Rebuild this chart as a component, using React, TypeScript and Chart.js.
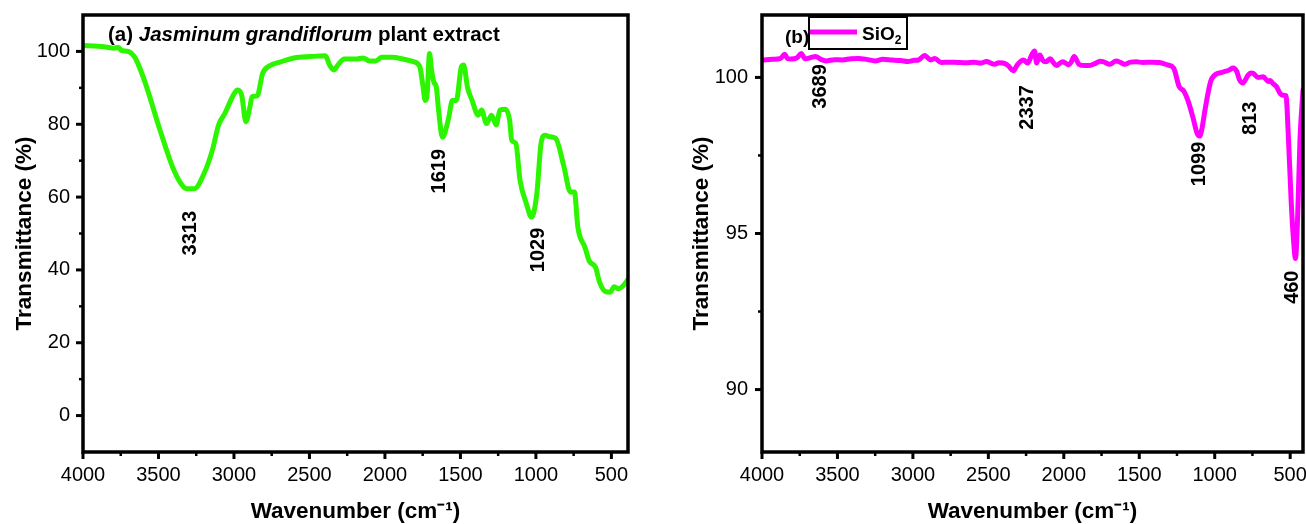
import React, { useEffect, useRef } from "react";
import { Chart, registerables } from "chart.js";

Chart.register(...registerables);

// ---------- Data: (a) Jasminum grandiflorum plant extract ----------
const jasminumWavenumber = [
  4000, 3900, 3850, 3795, 3767, 3745, 3700, 3660, 3642, 3587,
  3490, 3407, 3351, 3313, 3262, 3199, 3143, 3102, 3060, 3004,
  2977, 2949, 2921, 2894, 2880, 2846, 2810, 2769, 2686, 2603,
  2491, 2394, 2367, 2339, 2311, 2270, 2186, 2145, 2103, 2062,
  2020, 1951, 1881, 1812, 1770, 1750, 1733, 1720, 1705, 1690,
  1675, 1660, 1645, 1619, 1604, 1576, 1554, 1527, 1493, 1479,
  1452, 1424, 1382, 1360, 1327, 1294, 1263, 1238, 1202, 1174,
  1160, 1133, 1105, 1063, 1029, 994, 966, 939, 911, 869,
  814, 772, 745, 722, 675, 647, 605, 578, 536, 508,
  481, 453, 425, 390,
];
const jasminumTransmittance = [
  101.6, 101.4, 101.2, 100.9, 101.1, 100.3, 100.0, 98.6, 97.2, 91.3,
  78.4, 68.3, 63.7, 62.3, 62.3, 66.4, 72.9, 79.8, 83.0, 88.0,
  89.4, 88.0, 80.7, 84.8, 87.6, 87.8, 94.0, 95.9, 97.2, 98.2,
  98.6, 98.8, 96.3, 94.9, 96.3, 97.9, 97.9, 98.2, 97.4, 97.4,
  98.4, 98.4, 97.9, 97.2, 95.9, 91.0, 86.5, 88.5, 99.4, 94.5,
  91.5, 90.3, 84.0, 76.4, 77.5, 82.1, 86.5, 86.5, 95.9, 96.3,
  89.9, 86.7, 82.5, 83.9, 80.2, 82.5, 79.8, 83.9, 84.1, 81.1,
  75.6, 74.7, 64.6, 58.2, 54.5, 60.9, 74.7, 77.0, 76.6, 76.1,
  68.3, 61.4, 61.4, 51.7, 46.2, 42.5, 40.7, 36.6, 34.0, 33.9,
  35.4, 34.8, 35.5, 37.4,
];

// ---------- Data: (b) SiO2 ----------
const sio2Wavenumber = [
  4000, 3986, 3930, 3877, 3850, 3830, 3809, 3770, 3741, 3714,
  3680, 3645, 3610, 3577, 3520, 3468, 3410, 3359, 3300, 3250,
  3200, 3141, 3080, 3032, 2990, 2963, 2922, 2900, 2881, 2854,
  2813, 2760, 2704, 2650, 2595, 2550, 2513, 2480, 2459, 2430,
  2404, 2380, 2363, 2336, 2309, 2290, 2268, 2240, 2213, 2194,
  2180, 2170, 2159, 2140, 2118, 2090, 2070, 2049, 2009, 1985,
  1968, 1950, 1932, 1899, 1860, 1831, 1790, 1760, 1736, 1695,
  1654, 1620, 1599, 1558, 1520, 1477, 1420, 1367, 1313, 1272,
  1236, 1204, 1176, 1144, 1116, 1100, 1085, 1062, 1027, 999,
  945, 904, 878, 854, 836, 813, 781, 760, 745, 713,
  679, 645, 633, 613, 590, 567, 547, 528, 511, 493,
  478, 465, 450, 435, 415,
];
const sio2Transmittance = [
  100.57, 100.56, 100.58, 100.61, 100.74, 100.6, 100.59, 100.62, 100.77, 100.6,
  100.63, 100.67, 100.58, 100.53, 100.57, 100.56, 100.6, 100.61, 100.57, 100.53,
  100.58, 100.56, 100.54, 100.51, 100.55, 100.56, 100.7, 100.62, 100.56, 100.61,
  100.48, 100.49, 100.48, 100.47, 100.49, 100.46, 100.51, 100.45, 100.42, 100.47,
  100.46, 100.42, 100.35, 100.21, 100.4, 100.5, 100.56, 100.46, 100.72, 100.85,
  100.46, 100.6, 100.72, 100.55, 100.5, 100.6, 100.48, 100.38, 100.5, 100.45,
  100.4, 100.5, 100.67, 100.42, 100.38, 100.38, 100.45, 100.52, 100.5, 100.42,
  100.53, 100.47, 100.42, 100.49, 100.5, 100.48, 100.49, 100.48, 100.4, 100.3,
  99.71, 99.56, 99.24, 98.71, 98.2, 98.12, 98.35, 99.03, 99.87, 100.08,
  100.17, 100.24, 100.3, 100.19, 99.93, 99.82, 100.06, 100.14, 100.13, 100.0,
  100.02, 99.87, 99.9, 99.8, 99.7, 99.49, 99.43, 99.42, 98.0, 96.0,
  94.8, 94.2, 95.6, 98.0, 99.6,
];

// ---------- Ticks ----------
const xMajorTicks = [4000, 3500, 3000, 2500, 2000, 1500, 1000, 500];
const xMinorTicks = [3750, 3250, 2750, 2250, 1750, 1250, 750];
const leftYMajorTicks = [0, 20, 40, 60, 80, 100];
const leftYMinorTicks = [10, 30, 50, 70, 90];
const rightYMajorTicks = [90, 95, 100];
const rightYMinorTicks = [92.5, 97.5];

// ---------- Peak annotations ----------
const leftPeakLabels = ["3313", "1619", "1029"];
const leftPeakX = [3291, 1636, 980];
const leftPeakY = [50.1, 67.1, 45.5];
const rightPeakLabels = ["3689", "2337", "1099", "813", "460"];
const rightPeakX = [3612, 2240, 1103, 762, 487];
const rightPeakY = [99.71, 99.04, 97.23, 98.69, 93.28];

const SANS = "'Liberation Sans', Arial, Helvetica, sans-serif";
const GREEN = "#2cf500";
const MAGENTA = "#ff00ff";

const framePlugin = {
  id: "frame",
  afterDraw(chart: any, _args: any, opts: any) {
    const { ctx, chartArea: a, scales } = chart;
    const xs = scales.x;
    const ys = scales.y;
    ctx.save();
    ctx.strokeStyle = "#000";
    ctx.lineCap = "butt";
    const seg = (x1: number, y1: number, x2: number, y2: number) => {
      ctx.beginPath();
      ctx.moveTo(x1, y1);
      ctx.lineTo(x2, y2);
      ctx.stroke();
    };
    ctx.lineWidth = 3;
    opts.xMajor.forEach((v: number) => {
      const p = xs.getPixelForValue(v);
      seg(p, a.bottom, p, a.bottom + 7);
    });
    opts.yMajor.forEach((v: number) => {
      const p = ys.getPixelForValue(v);
      seg(a.left - 7, p, a.left, p);
    });
    ctx.lineWidth = 2.5;
    opts.xMinor.forEach((v: number) => {
      const p = xs.getPixelForValue(v);
      seg(p, a.bottom, p, a.bottom + 4);
    });
    opts.yMinor.forEach((v: number) => {
      const p = ys.getPixelForValue(v);
      seg(a.left - 4, p, a.left, p);
    });
    ctx.lineWidth = 3.5;
    ctx.strokeRect(a.left, a.top, a.right - a.left, a.bottom - a.top);
    ctx.restore();
  },
};

const peakPlugin = {
  id: "peaks",
  afterDatasetsDraw(chart: any, _args: any, opts: any) {
    const { ctx, scales } = chart;
    ctx.save();
    ctx.fillStyle = "#000";
    ctx.font = `bold 20px ${SANS}`;
    ctx.textAlign = "center";
    ctx.textBaseline = "middle";
    opts.labels.forEach((t: string, i: number) => {
      const px = scales.x.getPixelForValue(opts.xs[i]);
      const py = scales.y.getPixelForValue(opts.ys[i]);
      ctx.save();
      ctx.translate(px, py);
      ctx.rotate(-Math.PI / 2);
      ctx.fillText(t, 0, 0);
      ctx.restore();
    });
    ctx.restore();
  },
};

const headerPlugin = {
  id: "header",
  afterDraw(chart: any, _args: any, opts: any) {
    const { ctx, chartArea: a } = chart;
    ctx.save();
    ctx.fillStyle = "#000";
    ctx.textBaseline = "alphabetic";
    ctx.textAlign = "left";
    if (opts.kind === "a") {
      let x = a.left + 25;
      const y = a.top + 26;
      const runs: [string, string][] = [
        ["(a) ", `bold 20.5px ${SANS}`],
        ["Jasminum grandiflorum", `italic bold 20.5px ${SANS}`],
        [" plant extract", `bold 20.5px ${SANS}`],
      ];
      runs.forEach(([t, f]) => {
        ctx.font = f;
        ctx.fillText(t, x, y);
        x += ctx.measureText(t).width;
      });
    } else {
      const bx = a.left + 47;
      const bw = 98;
      const by = a.top + 2;
      const bh = 32;
      ctx.font = `bold 19px ${SANS}`;
      ctx.fillText("(b)", a.left + 23, a.top + 28);
      ctx.fillStyle = "#fff";
      ctx.fillRect(bx, by, bw, bh);
      ctx.strokeStyle = "#000";
      ctx.lineWidth = 2;
      ctx.strokeRect(bx, by, bw, bh);
      ctx.strokeStyle = MAGENTA;
      ctx.lineWidth = 5;
      ctx.beginPath();
      ctx.moveTo(bx + 1, a.top + 17);
      ctx.lineTo(bx + 48, a.top + 17);
      ctx.stroke();
      ctx.fillStyle = "#000";
      ctx.font = `bold 19px ${SANS}`;
      ctx.fillText("SiO", bx + 53, a.top + 25);
      const w = ctx.measureText("SiO").width;
      ctx.font = `bold 12px ${SANS}`;
      ctx.fillText("2", bx + 53 + w, a.top + 29);
    }
    ctx.restore();
  },
};

function makeConfig(p: any) {
  return {
    type: "line",
    data: {
      datasets: [
        {
          label: p.label,
          data: p.wn.map((w: number, i: number) => ({ x: w, y: p.vals[i] })),
          borderColor: p.color,
          borderWidth: 5,
          pointRadius: 0,
          fill: false,
          cubicInterpolationMode: "monotone",
          borderJoinStyle: "round",
          borderCapStyle: "round",
        },
      ],
    },
    options: {
      animation: false,
      responsive: false,
      devicePixelRatio: 1,
      layout: { padding: { left: 0, right: p.padRight, top: 15, bottom: 0 } },
      plugins: {
        legend: { display: false },
        tooltip: { enabled: false },
        frame: { xMajor: xMajorTicks, xMinor: xMinorTicks, yMajor: p.yMajor, yMinor: p.yMinor },
        peaks: { labels: p.peakLabels, xs: p.peakX, ys: p.peakY },
        header: { kind: p.kind },
      },
      scales: {
        x: {
          type: "linear",
          reverse: true,
          min: p.xMin,
          max: 4000,
          grid: { display: false, drawTicks: false },
          border: { display: false },
          afterBuildTicks: (s: any) => {
            s.ticks = xMajorTicks.map((v) => ({ value: v }));
          },
          afterFit: (s: any) => {
            s.height = 72;
            s.paddingLeft = 0;
            s.paddingRight = 0;
          },
          ticks: {
            autoSkip: false,
            maxRotation: 0,
            minRotation: 0,
            padding: 11,
            color: "#000",
            font: { family: SANS, size: 20 },
            callback: (v: any) => String(v),
          },
          title: {
            display: true,
            text: "Wavenumber (cm⁻¹)",
            color: "#000",
            font: { family: SANS, size: 22.5, weight: "bold", lineHeight: 1 },
            padding: { top: 0, bottom: 1 },
          },
        },
        y: {
          type: "linear",
          min: p.yMin,
          max: p.yMax,
          grid: { display: false, drawTicks: false },
          border: { display: false },
          afterBuildTicks: (s: any) => {
            s.ticks = p.yMajor.map((v: number) => ({ value: v }));
          },
          afterFit: (s: any) => {
            s.width = p.yAxisWidth;
            s.paddingTop = 0;
            s.paddingBottom = 0;
          },
          ticks: {
            padding: p.yTickPad,
            color: "#000",
            font: { family: SANS, size: 20 },
            callback: (v: any) => String(v),
          },
          title: {
            display: true,
            text: "Transmittance (%)",
            color: "#000",
            font: { family: SANS, size: 22.5, weight: "bold", lineHeight: 1.2 },
            padding: { top: p.yTitlePad, bottom: 0 },
          },
        },
      },
    },
    plugins: [framePlugin, peakPlugin, headerPlugin],
  };
}

const leftPanel = {
  kind: "a",
  label: "Jasminum grandiflorum plant extract",
  wn: jasminumWavenumber,
  vals: jasminumTransmittance,
  color: GREEN,
  xMin: 390,
  yMin: -10,
  yMax: 110,
  yMajor: leftYMajorTicks,
  yMinor: leftYMinorTicks,
  peakLabels: leftPeakLabels,
  peakX: leftPeakX,
  peakY: leftPeakY,
  padRight: 32,
  yAxisWidth: 83,
  yTickPad: 13,
  yTitlePad: 11,
};

const rightPanel = {
  kind: "b",
  label: "SiO2",
  wn: sio2Wavenumber,
  vals: sio2Transmittance,
  color: MAGENTA,
  xMin: 415,
  yMin: 88,
  yMax: 102,
  yMajor: rightYMajorTicks,
  yMinor: rightYMinorTicks,
  peakLabels: rightPeakLabels,
  peakX: rightPeakX,
  peakY: rightPeakY,
  padRight: 3,
  yAxisWidth: 102,
  yTickPad: 14,
  yTitlePad: 28,
};

function Panel({ panel, left, width }: { panel: any; left: number; width: number }) {
  const ref = useRef<HTMLCanvasElement>(null);
  useEffect(() => {
    const chart = new Chart(ref.current as HTMLCanvasElement, makeConfig(panel) as any);
    return () => chart.destroy();
  }, [panel]);
  return (
    <canvas
      ref={ref}
      width={width}
      height={524}
      style={{ position: "absolute", left, top: 0, width, height: 524 }}
    />
  );
}

export default function App() {
  return (
    <div
      style={{
        position: "fixed",
        left: 0,
        top: 0,
        width: 1306,
        height: 524,
        background: "#fff",
        overflow: "hidden",
      }}
    >
      <Panel panel={leftPanel} left={0} width={660} />
      <Panel panel={rightPanel} left={660} width={646} />
    </div>
  );
}
